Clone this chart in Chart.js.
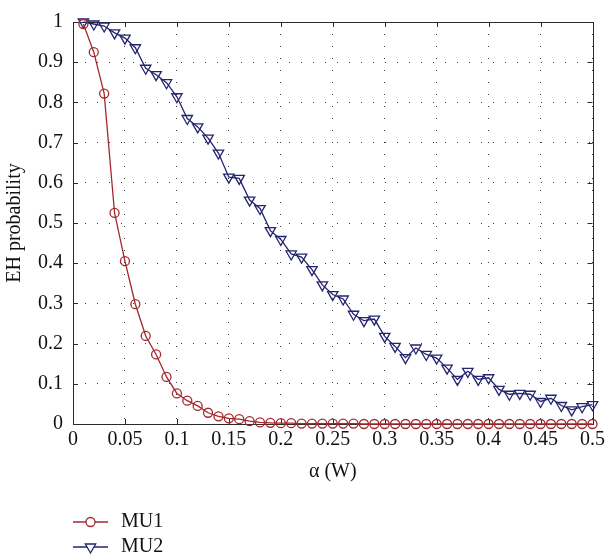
<!DOCTYPE html>
<html>
<head>
<meta charset="utf-8">
<script src="https://cdn.jsdelivr.net/npm/chart.js@4.4.1/dist/chart.umd.min.js"></script>
<style>
  html, body { margin: 0; padding: 0; background: #fff; }
  #chart { display: block; }
</style>
</head>
<body>
<canvas id="chart" width="609" height="556"></canvas>
<script>
const alpha = [0.01, 0.02, 0.03, 0.04, 0.05, 0.06, 0.07, 0.08, 0.09, 0.10,
               0.11, 0.12, 0.13, 0.14, 0.15, 0.16, 0.17, 0.18, 0.19, 0.20,
               0.21, 0.22, 0.23, 0.24, 0.25, 0.26, 0.27, 0.28, 0.29, 0.30,
               0.31, 0.32, 0.33, 0.34, 0.35, 0.36, 0.37, 0.38, 0.39, 0.40,
               0.41, 0.42, 0.43, 0.44, 0.45, 0.46, 0.47, 0.48, 0.49, 0.50];

const mu1 = [0.995, 0.925, 0.822, 0.525, 0.405, 0.298, 0.219, 0.173, 0.117, 0.076,
             0.058, 0.045, 0.028, 0.019, 0.014, 0.012, 0.007, 0.004, 0.003, 0.002,
             0.002, 0.001, 0.001, 0.001, 0.001, 0.001, 0.001, 0, 0, 0,
             0, 0, 0, 0, 0, 0, 0, 0, 0, 0,
             0, 0, 0, 0, 0, 0, 0, 0, 0, 0];

const mu2 = [1.0, 0.995, 0.99, 0.973, 0.96, 0.936, 0.885, 0.869, 0.849, 0.814,
             0.760, 0.739, 0.711, 0.674, 0.614, 0.611, 0.557, 0.536, 0.481, 0.459,
             0.423, 0.415, 0.384, 0.346, 0.322, 0.311, 0.273, 0.257, 0.261, 0.218,
             0.193, 0.165, 0.189, 0.173, 0.164, 0.139, 0.111, 0.131, 0.111, 0.115,
             0.086, 0.074, 0.076, 0.074, 0.056, 0.064, 0.046, 0.035, 0.043, 0.048];

const seriesNames = ['MU1', 'MU2'];

const xTickValues = [0, 0.05, 0.1, 0.15, 0.2, 0.25, 0.3, 0.35, 0.4, 0.45, 0.5];
const xTickLabels = ['0', '0.05', '0.1', '0.15', '0.2', '0.25', '0.3', '0.35', '0.4', '0.45', '0.5'];
const yTickValues = [0, 0.1, 0.2, 0.3, 0.4, 0.5, 0.6, 0.7, 0.8, 0.9, 1];
const yTickLabels = ['0', '0.1', '0.2', '0.3', '0.4', '0.5', '0.6', '0.7', '0.8', '0.9', '1'];

const RED = '#a3282e';
const BLUE = '#24246f';
const FONT = "'Liberation Serif', 'Times New Roman', serif";

function toPoints(ys) {
    return alpha.map((a, i) => ({ x: a, y: ys[i] }));
}

// inner ticks + box frame, matlab style
const framePlugin = {
    id: 'frame',
    beforeDatasetsDraw(chart) {
        const { ctx, chartArea: a, scales } = chart;
        ctx.save();
        ctx.strokeStyle = '#2a2a2a';
        ctx.lineWidth = 1;
        ctx.beginPath();
        scales.x.ticks.forEach(t => {
            const px = Math.round(scales.x.getPixelForValue(t.value)) + 0.5;
            ctx.moveTo(px, a.bottom); ctx.lineTo(px, a.bottom - 5);
            ctx.moveTo(px, a.top); ctx.lineTo(px, a.top + 5);
        });
        scales.y.ticks.forEach(t => {
            const py = Math.round(scales.y.getPixelForValue(t.value)) + 0.5;
            ctx.moveTo(a.left, py); ctx.lineTo(a.left + 5, py);
            ctx.moveTo(a.right, py); ctx.lineTo(a.right - 5, py);
        });
        ctx.stroke();
        ctx.strokeRect(Math.round(a.left) + 0.5, Math.round(a.top) + 0.5,
            Math.round(a.right - a.left), Math.round(a.bottom - a.top));
        ctx.restore();
    }
};

// legend stacked under the axis title: line with marker in the middle
const legendPlugin = {
    id: 'stackLegend',
    afterDraw(chart) {
        const { ctx } = chart;
        const x0 = 73, x1 = 108, rowY = [522, 547];
        chart.data.datasets.forEach((ds, i) => {
            const y = rowY[i];
            const mx = (x0 + x1) / 2;
            ctx.save();
            ctx.strokeStyle = ds.borderColor;
            ctx.lineWidth = ds.borderWidth;
            ctx.beginPath();
            ctx.moveTo(x0, y); ctx.lineTo(x1, y);
            ctx.stroke();
            ctx.fillStyle = '#fff';
            ctx.beginPath();
            if (ds.pointStyle === 'triangle') {
                const r = ds.pointRadius;
                ctx.moveTo(mx, y + r);
                ctx.lineTo(mx - r * Math.sin(Math.PI / 3), y - r / 2);
                ctx.lineTo(mx + r * Math.sin(Math.PI / 3), y - r / 2);
                ctx.closePath();
            } else {
                ctx.arc(mx, y, ds.pointRadius, 0, Math.PI * 2);
            }
            ctx.fill();
            ctx.stroke();
            ctx.fillStyle = '#111';
            ctx.font = '20px ' + FONT;
            ctx.textBaseline = 'middle';
            ctx.fillText(ds.label, 121, y);
            ctx.restore();
        });
    }
};

new Chart(document.getElementById('chart'), {
    type: 'line',
    data: {
        datasets: [
            {
                label: seriesNames[0],
                data: toPoints(mu1),
                borderColor: RED,
                borderWidth: 1.3,
                pointStyle: 'circle',
                pointRadius: 4.5,
                pointBorderWidth: 1.3,
                pointBackgroundColor: 'rgba(0,0,0,0)',
                pointBorderColor: RED,
                tension: 0,
                clip: false
            },
            {
                label: seriesNames[1],
                data: toPoints(mu2),
                borderColor: BLUE,
                borderWidth: 1.3,
                pointStyle: 'triangle',
                pointRotation: 180,
                pointRadius: 6,
                pointBorderWidth: 1.3,
                pointBackgroundColor: 'rgba(0,0,0,0)',
                pointBorderColor: BLUE,
                tension: 0,
                clip: false
            }
        ]
    },
    options: {
        responsive: false,
        animation: false,
        devicePixelRatio: 1,
        layout: { padding: { top: 12, right: 13, bottom: 70, left: 0 } },
        plugins: {
            legend: { display: false },
            tooltip: { enabled: false }
        },
        scales: {
            x: {
                type: 'linear',
                min: 0,
                max: 0.5,
                afterBuildTicks: s => { s.ticks = xTickValues.map(v => ({ value: v })); },
                afterFit: s => { s.height = 62; },
                ticks: {
                    padding: 4,
                    color: '#111',
                    font: { family: FONT, size: 20 },
                    callback: (v, i) => xTickLabels[i]
                },
                grid: { color: '#3a3a3a', lineWidth: 1, drawTicks: false },
                border: { display: false, dash: [1, 11] },
                title: {
                    display: true,
                    text: 'α (W)',
                    color: '#111',
                    font: { family: FONT, size: 20 },
                    padding: { top: 0, bottom: 2 }
                }
            },
            y: {
                type: 'linear',
                min: 0,
                max: 1,
                afterBuildTicks: s => { s.ticks = yTickValues.map(v => ({ value: v })); },
                afterFit: s => { s.width = 73; },
                ticks: {
                    padding: 10,
                    color: '#111',
                    font: { family: FONT, size: 20 },
                    callback: (v, i) => yTickLabels[i]
                },
                grid: { color: '#3a3a3a', lineWidth: 1, drawTicks: false },
                border: { display: false, dash: [1, 11] },
                title: {
                    display: true,
                    text: 'EH probability',
                    color: '#111',
                    font: { family: FONT, size: 20 },
                    padding: { top: 3, bottom: 0 }
                }
            }
        }
    },
    plugins: [framePlugin, legendPlugin]
});
</script>
</body>
</html>
